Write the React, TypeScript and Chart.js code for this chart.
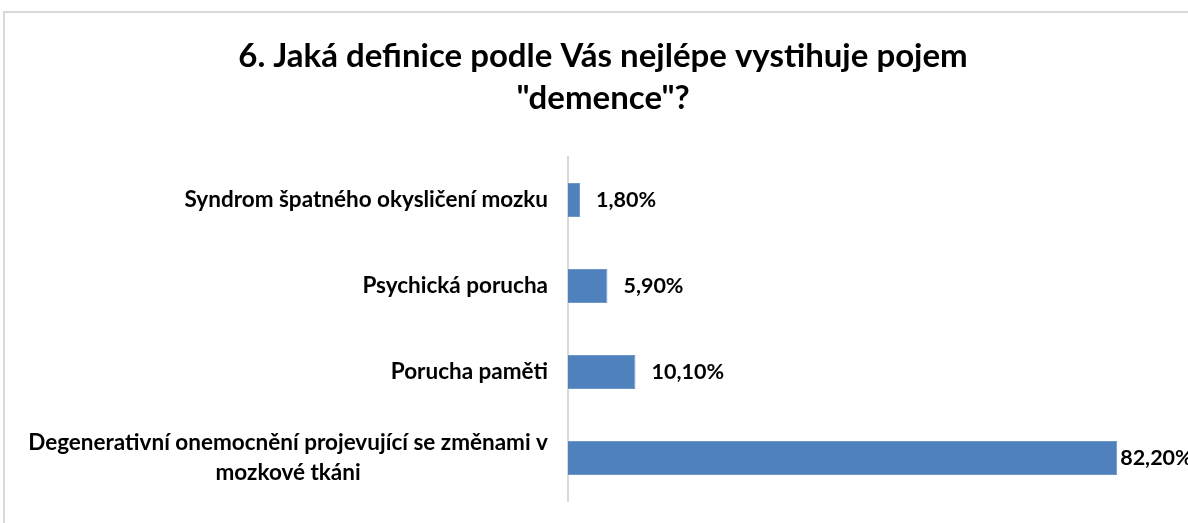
import React, { useEffect, useRef } from 'react';
import { Chart, registerables } from 'chart.js';

Chart.register(...registerables);

const titleLines: string[] = ['6. Jaká definice podle Vás nejlépe vystihuje pojem', '"demence"?'];
const categories: string[][] = [
  ['Syndrom špatného okysličení mozku'],
  ['Psychická porucha'],
  ['Porucha paměti'],
  ['Degenerativní onemocnění projevující se změnami v', 'mozkové tkáni'],
];
const values: number[] = [1.8, 5.9, 10.1, 82.2];
const axisMin = 0;
const axisMax = 92.8;

const FONT = 'Lato, "Open Sans", sans-serif';
const fmt = (v: number) => v.toFixed(2).replace('.', ',') + '%';

const categoryLabelPlugin = {
  id: 'categoryLabels',
  afterDraw(chart: any) {
    const ctx = chart.ctx as CanvasRenderingContext2D;
    const ys = chart.scales.y;
    const labels = chart.data.labels as string[][];
    ctx.save();
    ctx.font = `bold 22.5px ${FONT}`;
    ctx.fillStyle = '#000';
    ctx.textAlign = 'center';
    ctx.textBaseline = 'middle';
    labels.forEach((lines, i) => {
      const y = ys.getPixelForValue(i);
      const maxW = Math.max(...lines.map((l) => ctx.measureText(l).width));
      const cx = chart.chartArea.left - 20 - maxW / 2;
      const n = lines.length;
      lines.forEach((ln, j) => {
        ctx.fillText(ln, cx, y + (j - (n - 1) / 2) * 30);
      });
    });
    ctx.restore();
  },
};

const valueLabelPlugin = {
  id: 'valueLabels',
  afterDatasetsDraw(chart: any) {
    const ctx = chart.ctx as CanvasRenderingContext2D;
    const meta = chart.getDatasetMeta(0);
    const data = chart.data.datasets[0].data as number[];
    ctx.save();
    ctx.font = `bold 21.5px ${FONT}`;
    ctx.fillStyle = '#000';
    ctx.textAlign = 'left';
    ctx.textBaseline = 'middle';
    meta.data.forEach((bar: any, i: number) => {
      const txt = fmt(data[i]);
      const w = ctx.measureText(txt).width;
      let x = bar.x + 16;
      if (x + w > chart.width) x = bar.x + 3;
      ctx.fillText(txt, x, bar.y);
    });
    ctx.restore();
  },
};

export default function App() {
  const ref = useRef<HTMLCanvasElement | null>(null);
  useEffect(() => {
    if (!ref.current) return;
    const chart = new Chart(ref.current, {
      type: 'bar',
      data: {
        labels: categories as any,
        datasets: [
          {
            data: values,
            backgroundColor: '#4F81BD',
            borderColor: '#6d97c9',
            borderWidth: 1,
            barPercentage: 0.395,
            categoryPercentage: 1,
          },
        ],
      },
      options: {
        indexAxis: 'y',
        animation: false,
        responsive: false,
        maintainAspectRatio: false,
        layout: { padding: { left: 18, right: 0, top: 0, bottom: 22 } },
        scales: {
          x: { display: false, min: axisMin, max: axisMax },
          y: {
            display: true,
            ticks: { display: false },
            grid: { display: false },
            border: { display: true, color: '#d9d9d9', width: 2 },
            afterFit: (s: any) => {
              s.width = 550;
            },
          },
        },
        plugins: {
          legend: { display: false },
          tooltip: { enabled: false },
          title: {
            display: true,
            text: titleLines,
            color: '#000',
            font: { family: FONT, size: 33, weight: 'bold', lineHeight: '42px' as any },
            padding: { top: 35, bottom: 38 },
          },
        },
      },
      plugins: [categoryLabelPlugin, valueLabelPlugin],
    });
    return () => chart.destroy();
  }, []);

  return (
    <div style={{ position: 'fixed', left: 0, top: 0, width: 1188, height: 523, overflow: 'hidden', background: '#fff' }}>
      <div
        style={{
          position: 'absolute',
          left: 3,
          top: 11,
          width: 1300,
          height: 700,
          border: '2px solid #d9d9d9',
          boxSizing: 'border-box',
        }}
      />
      <canvas ref={ref} width={1188} height={523} style={{ position: 'absolute', left: 0, top: 0 }} />
    </div>
  );
}
